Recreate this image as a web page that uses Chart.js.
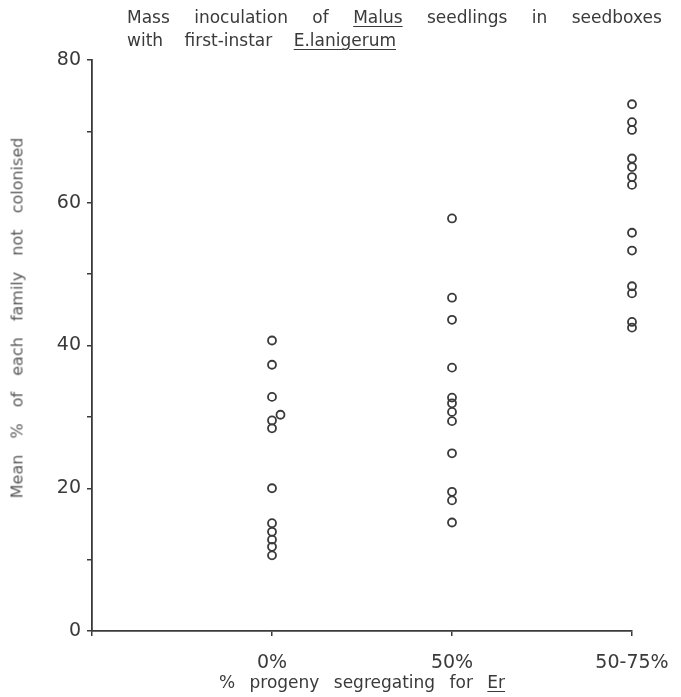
<!DOCTYPE html>
<html>
<head>
<meta charset="utf-8">
<script src="https://cdn.jsdelivr.net/npm/chart.js@4"></script>
<style>
  body { margin: 0; background: #fff; }
  .wrap { position: relative; width: 681px; height: 697px; }
  canvas { position: absolute; left: 0; top: 0; }
  .lbl { position: absolute; font-family: "DejaVu Sans", sans-serif; color: #3a3a3a; white-space: nowrap; }
  .title { left: 127px; top: 6px; font-size: 17px; line-height: 23px; word-spacing: 19px; }
  .xtitle { left: 362px; top: 672px; font-size: 17px; word-spacing: 9px; transform: translateX(-50%); }
  .ytitle { left: 17px; top: 318px; font-size: 16px; word-spacing: 11px; color: #5a5a5a;
            transform: translate(-50%, -50%) rotate(-90deg); }
  u { text-underline-offset: 3px; }
</style>
</head>
<body>
<div class="wrap">
  <canvas id="chart" width="681" height="697"></canvas>
  <div class="lbl title">Mass inoculation of <u>Malus</u> seedlings in seedboxes<br><span style="word-spacing:16px">with first-instar <u>E.lanigerum</u></span></div>
  <div class="lbl ytitle">Mean % of each family not colonised</div>
  <div class="lbl xtitle">% progeny segregating for <u>Er</u></div>
</div>
<script>
// categories along the x axis
const categories = ["0%", "50%", "50-75%"];

// mean % not colonised, one value per family
const values0 = [40.7, 37.3, 32.8, 30.3, 29.5, 28.4, 20.0, 15.1, 13.9, 12.8, 11.8, 10.6];
const jitter0 = [0, 0, 0, 0.047, 0, 0, 0, 0, 0, 0, 0, 0];   // one circle sits beside the column
const values1 = [57.8, 46.7, 43.6, 36.9, 32.7, 31.9, 30.7, 29.4, 24.9, 19.5, 18.3, 15.2];
const values2 = [73.8, 71.3, 70.2, 66.2, 65.0, 63.6, 62.5, 55.8, 53.3, 48.3, 47.3, 43.3, 42.5];

const yTicks = [0, 20, 40, 60, 80];

const ink = "#3a3a3a";

function toPoints(vals, catIndex, jitter) {
  return vals.map((v, i) => ({ x: catIndex + 1 + (jitter ? jitter[i] : 0), y: v }));
}

const points = [
  ...toPoints(values0, 0, jitter0),
  ...toPoints(values1, 1),
  ...toPoints(values2, 2)
];

new Chart(document.getElementById("chart"), {
  type: "scatter",
  data: {
    datasets: [{
      data: points,
      clip: false,
      pointStyle: "circle",
      pointRadius: 4,
      pointHoverRadius: 4,
      borderWidth: 1.8,
      borderColor: ink,
      backgroundColor: "rgba(0,0,0,0)"
    }]
  },
  options: {
    responsive: false,
    animation: false,
    layout: { padding: { top: 60, right: 49, bottom: 0, left: 0 } },
    plugins: { legend: { display: false }, tooltip: { enabled: false } },
    scales: {
      x: {
        type: "linear",
        min: 0,
        max: 3,
        // fixed height; let the last label hang over the right edge
        afterFit: s => { s.height = 66; s.paddingLeft = 0; s.paddingRight = 0; },
        afterBuildTicks: s => { s.ticks = [0, 1, 2, 3].map(v => ({ value: v })); },
        ticks: {
          color: ink,
          font: { family: "DejaVu Sans", size: 19 },
          padding: 16,
          maxRotation: 0,
          callback: v => (v >= 1 ? categories[v - 1] : "")
        },
        grid: { display: true, drawOnChartArea: false, tickLength: 5, tickColor: ink, lineWidth: 1.5 },
        border: { color: ink, width: 1.8 }
      },
      y: {
        min: 0,
        max: 80,
        afterFit: s => { s.width = 92; },
        afterBuildTicks: s => { s.ticks = [0, 10, 20, 30, 40, 50, 60, 70, 80].map(v => ({ value: v })); },
        ticks: {
          color: ink,
          font: { family: "DejaVu Sans", size: 19 },
          padding: 6,
          callback: v => (yTicks.includes(v) ? String(v) : "")
        },
        grid: { display: true, drawOnChartArea: false, tickLength: 5, tickColor: ink, lineWidth: 1.5 },
        border: { color: ink, width: 1.8 }
      }
    }
  }
});
</script>
</body>
</html>
